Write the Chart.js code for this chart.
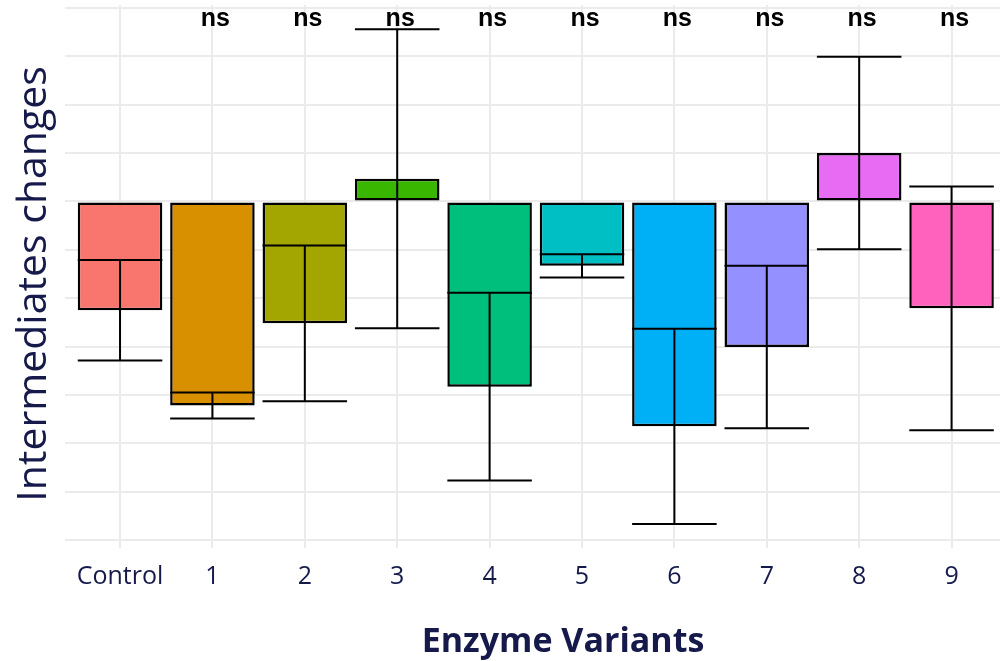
<!DOCTYPE html>
<html>
<head>
<meta charset="utf-8">
<script src="https://cdn.jsdelivr.net/npm/chart.js@4.4.1/dist/chart.umd.min.js"></script>
<style>
  html, body { margin: 0; padding: 0; background: #ffffff; overflow: hidden; }
  #wrap { position: relative; width: 1010px; height: 661px; }
</style>
</head>
<body>
<div id="wrap"><canvas id="chart"></canvas></div>
<script>
// Enzyme variants and their mean intermediate change (bar) with standard deviation (error bar)
const categories = ['Control', '1', '2', '3', '4', '5', '6', '7', '8', '9'];
const meanChange = [-2.25, -4.22, -2.52, 0.47, -3.83, -1.33, -4.65, -3.01, 1.00, -2.21];
const sdChange   = [1.04, 0.27, 1.61, 3.09, 1.94, 0.24, 2.02, 1.68, 1.99, 2.52];
const sigLabels  = ['', 'ns', 'ns', 'ns', 'ns', 'ns', 'ns', 'ns', 'ns', 'ns'];
const fillColors = ['#F8766D', '#D89000', '#A3A500', '#39B600', '#00BF7D',
                    '#00BFC4', '#00B0F6', '#9590FF', '#E76BF3', '#FF62BC'];
const gridValues = [-7, -6, -5, -4, -3, -2, -1, 0, 1, 2, 3, 4];

const NAVY = '#151a4b';
const GRID = '#ebebeb';

// Mean ± SD whiskers with caps the same width as the bar
const errorBars = {
  id: 'errorBars',
  afterDatasetsDraw(chart) {
    const { ctx, scales: { x, y } } = chart;
    const meta = chart.getDatasetMeta(0);
    ctx.save();
    ctx.strokeStyle = '#000000';
    ctx.lineWidth = 2;
    meanChange.forEach((m, i) => {
      const bar = meta.data[i];
      const cx = x.getPixelForValue(i);
      const half = bar.width / 2;
      const yHi = y.getPixelForValue(m + sdChange[i]);
      const yLo = y.getPixelForValue(m - sdChange[i]);
      ctx.beginPath();
      ctx.moveTo(cx, yHi); ctx.lineTo(cx, yLo);
      ctx.moveTo(cx - half, yHi); ctx.lineTo(cx + half, yHi);
      ctx.moveTo(cx - half, yLo); ctx.lineTo(cx + half, yLo);
      ctx.stroke();
    });
    ctx.restore();
  }
};

// Significance labels above each variant, plus the two axis titles
const annotations = {
  id: 'annotations',
  afterDraw(chart) {
    const { ctx, scales: { x } } = chart;
    ctx.save();
    ctx.fillStyle = '#000000';
    ctx.font = 'bold 25px "Liberation Sans", Arial, sans-serif';
    ctx.textAlign = 'center';
    ctx.textBaseline = 'alphabetic';
    sigLabels.forEach((s, i) => {
      if (s) ctx.fillText(s, x.getPixelForValue(i) + 3, 26);
    });

    ctx.fillStyle = NAVY;
    ctx.font = 'bold 34px "Open Sans", sans-serif';
    ctx.fillText('Enzyme Variants', 563, 652);

    ctx.translate(46, 284);
    ctx.rotate(-Math.PI / 2);
    ctx.font = '41px "Open Sans", sans-serif';
    ctx.fillText('Intermediates changes', 0, 0);
    ctx.restore();
  }
};

new Chart(document.getElementById('chart'), {
  type: 'bar',
  data: {
    datasets: [{
      data: meanChange.map((v, i) => ({ x: i, y: v })),
      backgroundColor: fillColors,
      borderColor: '#000000',
      borderWidth: 2.5,
      borderSkipped: false,
      barPercentage: 0.915,
      categoryPercentage: 1.0
    }]
  },
  options: {
    responsive: true,
    maintainAspectRatio: false,
    animation: false,
    layout: { padding: { left: 64.6, right: 3, top: 5, bottom: 0 } },
    plugins: {
      legend: { display: false },
      tooltip: { enabled: false }
    },
    scales: {
      x: {
        type: 'linear',
        min: -0.6,
        max: 9.6,
        offset: false,
        afterBuildTicks: s => { s.ticks = categories.map((_, i) => ({ value: i })); },
        afterFit: s => { s.height = 113; },
        grid: { color: GRID, lineWidth: 2, drawTicks: false, offset: false },
        border: { display: false },
        ticks: {
          padding: 14,
          color: NAVY,
          font: { family: '"Open Sans", sans-serif', size: 25 },
          callback: v => categories[v],
          autoSkip: false,
          maxRotation: 0
        }
      },
      y: {
        min: -7.165,
        max: 4.062,
        afterBuildTicks: s => { s.ticks = gridValues.map(v => ({ value: v })); },
        afterFit: s => { s.width = 0; },
        grid: { color: GRID, lineWidth: 2, drawTicks: false },
        border: { display: false },
        ticks: { display: false }
      }
    }
  },
  plugins: [errorBars, annotations]
});
</script>
</body>
</html>
